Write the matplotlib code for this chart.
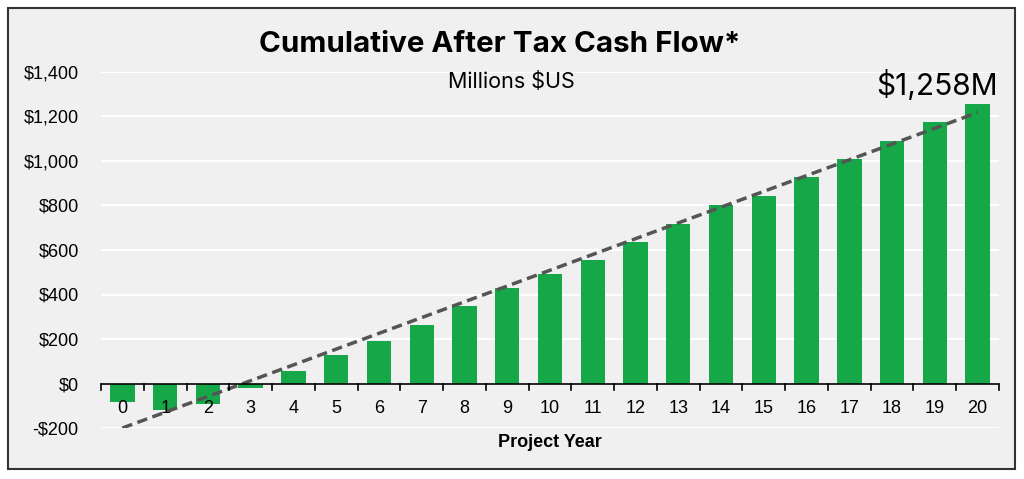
import numpy as np
import matplotlib.pyplot as plt
from matplotlib.patches import Rectangle
from matplotlib.ticker import FuncFormatter

plt.rcParams['font.family'] = ['Liberation Sans', 'DejaVu Sans']

years = list(range(21))
cum_cash_flow = [-85, -117, -94, -18, 58, 126, 193, 265, 350, 427, 490,
                 553, 638, 719, 801, 842, 926, 1011, 1092, 1177, 1258]
trend_start = -200
trend_end = 1218

BAR_COLOR = '#16a848'
BG = '#f0f0f0'

fig = plt.figure(figsize=(10.24, 4.79), dpi=100)
fig.patch.set_facecolor('white')
fig.patches.append(Rectangle((8 / 1024, 1 - 469 / 479), 1007 / 1024, 461 / 479,
                             transform=fig.transFigure, facecolor=BG,
                             edgecolor='#333333', linewidth=1.5, zorder=-5))

ax = fig.add_axes([101 / 1024, 1 - 428 / 479, 898 / 1024, 356 / 479])
ax.patch.set_alpha(0)

ax.bar(years, cum_cash_flow, width=0.57, color=BAR_COLOR, zorder=2)
ax.plot([years[0], years[-1]], [trend_start, trend_end], linestyle=(0, (3, 1.6)),
        color='#555555', linewidth=2.5, zorder=3)

ax.set_xlim(-0.5, 20.5)
ax.set_ylim(-200, 1400)
ax.set_yticks(range(-200, 1401, 200))
ax.yaxis.set_major_formatter(FuncFormatter(
    lambda v, p: f'-${abs(v):,.0f}' if v < 0 else f'${v:,.0f}'))
ax.tick_params(axis='y', length=0, labelsize=13, pad=16)
ax.grid(axis='y', color='white', linewidth=1.5, zorder=0)
ax.set_axisbelow(True)
for s in ax.spines.values():
    s.set_visible(False)

# zero line with category ticks
ax.axhline(0, color='black', linewidth=1.2, zorder=4)
ax.set_xticks([])
for b in np.arange(-0.5, 20.6, 1):
    ax.plot([b, b], [0, -27], color='black', linewidth=1.2, zorder=4, clip_on=False)
for y in years:
    ax.text(y, -112, str(y), ha='center', va='center', fontsize=13, zorder=5)

ax.text(0.5, -0.04, 'Project Year', transform=ax.transAxes, ha='center', va='center',
        fontsize=13, fontweight='bold')

fig.text(500 / 1024, 1 - 45 / 479, 'Cumulative After Tax Cash Flow*', ha='center',
         va='center', fontsize=21.3, fontweight='bold', family=['Inter', 'DejaVu Sans'])
fig.text(511 / 1024, 1 - 82 / 479, 'Millions $US', ha='center', va='center', fontsize=15.5,
         family=['Inter', 'DejaVu Sans'])
ax.annotate('$1,258M', xy=(years[-1], cum_cash_flow[-1]), xytext=(-29, 13),
            textcoords='offset points', ha='center', va='center', fontsize=21.5,
            family=['Inter', 'DejaVu Sans'])

fig.savefig('out.png', dpi=100, facecolor=fig.get_facecolor())
